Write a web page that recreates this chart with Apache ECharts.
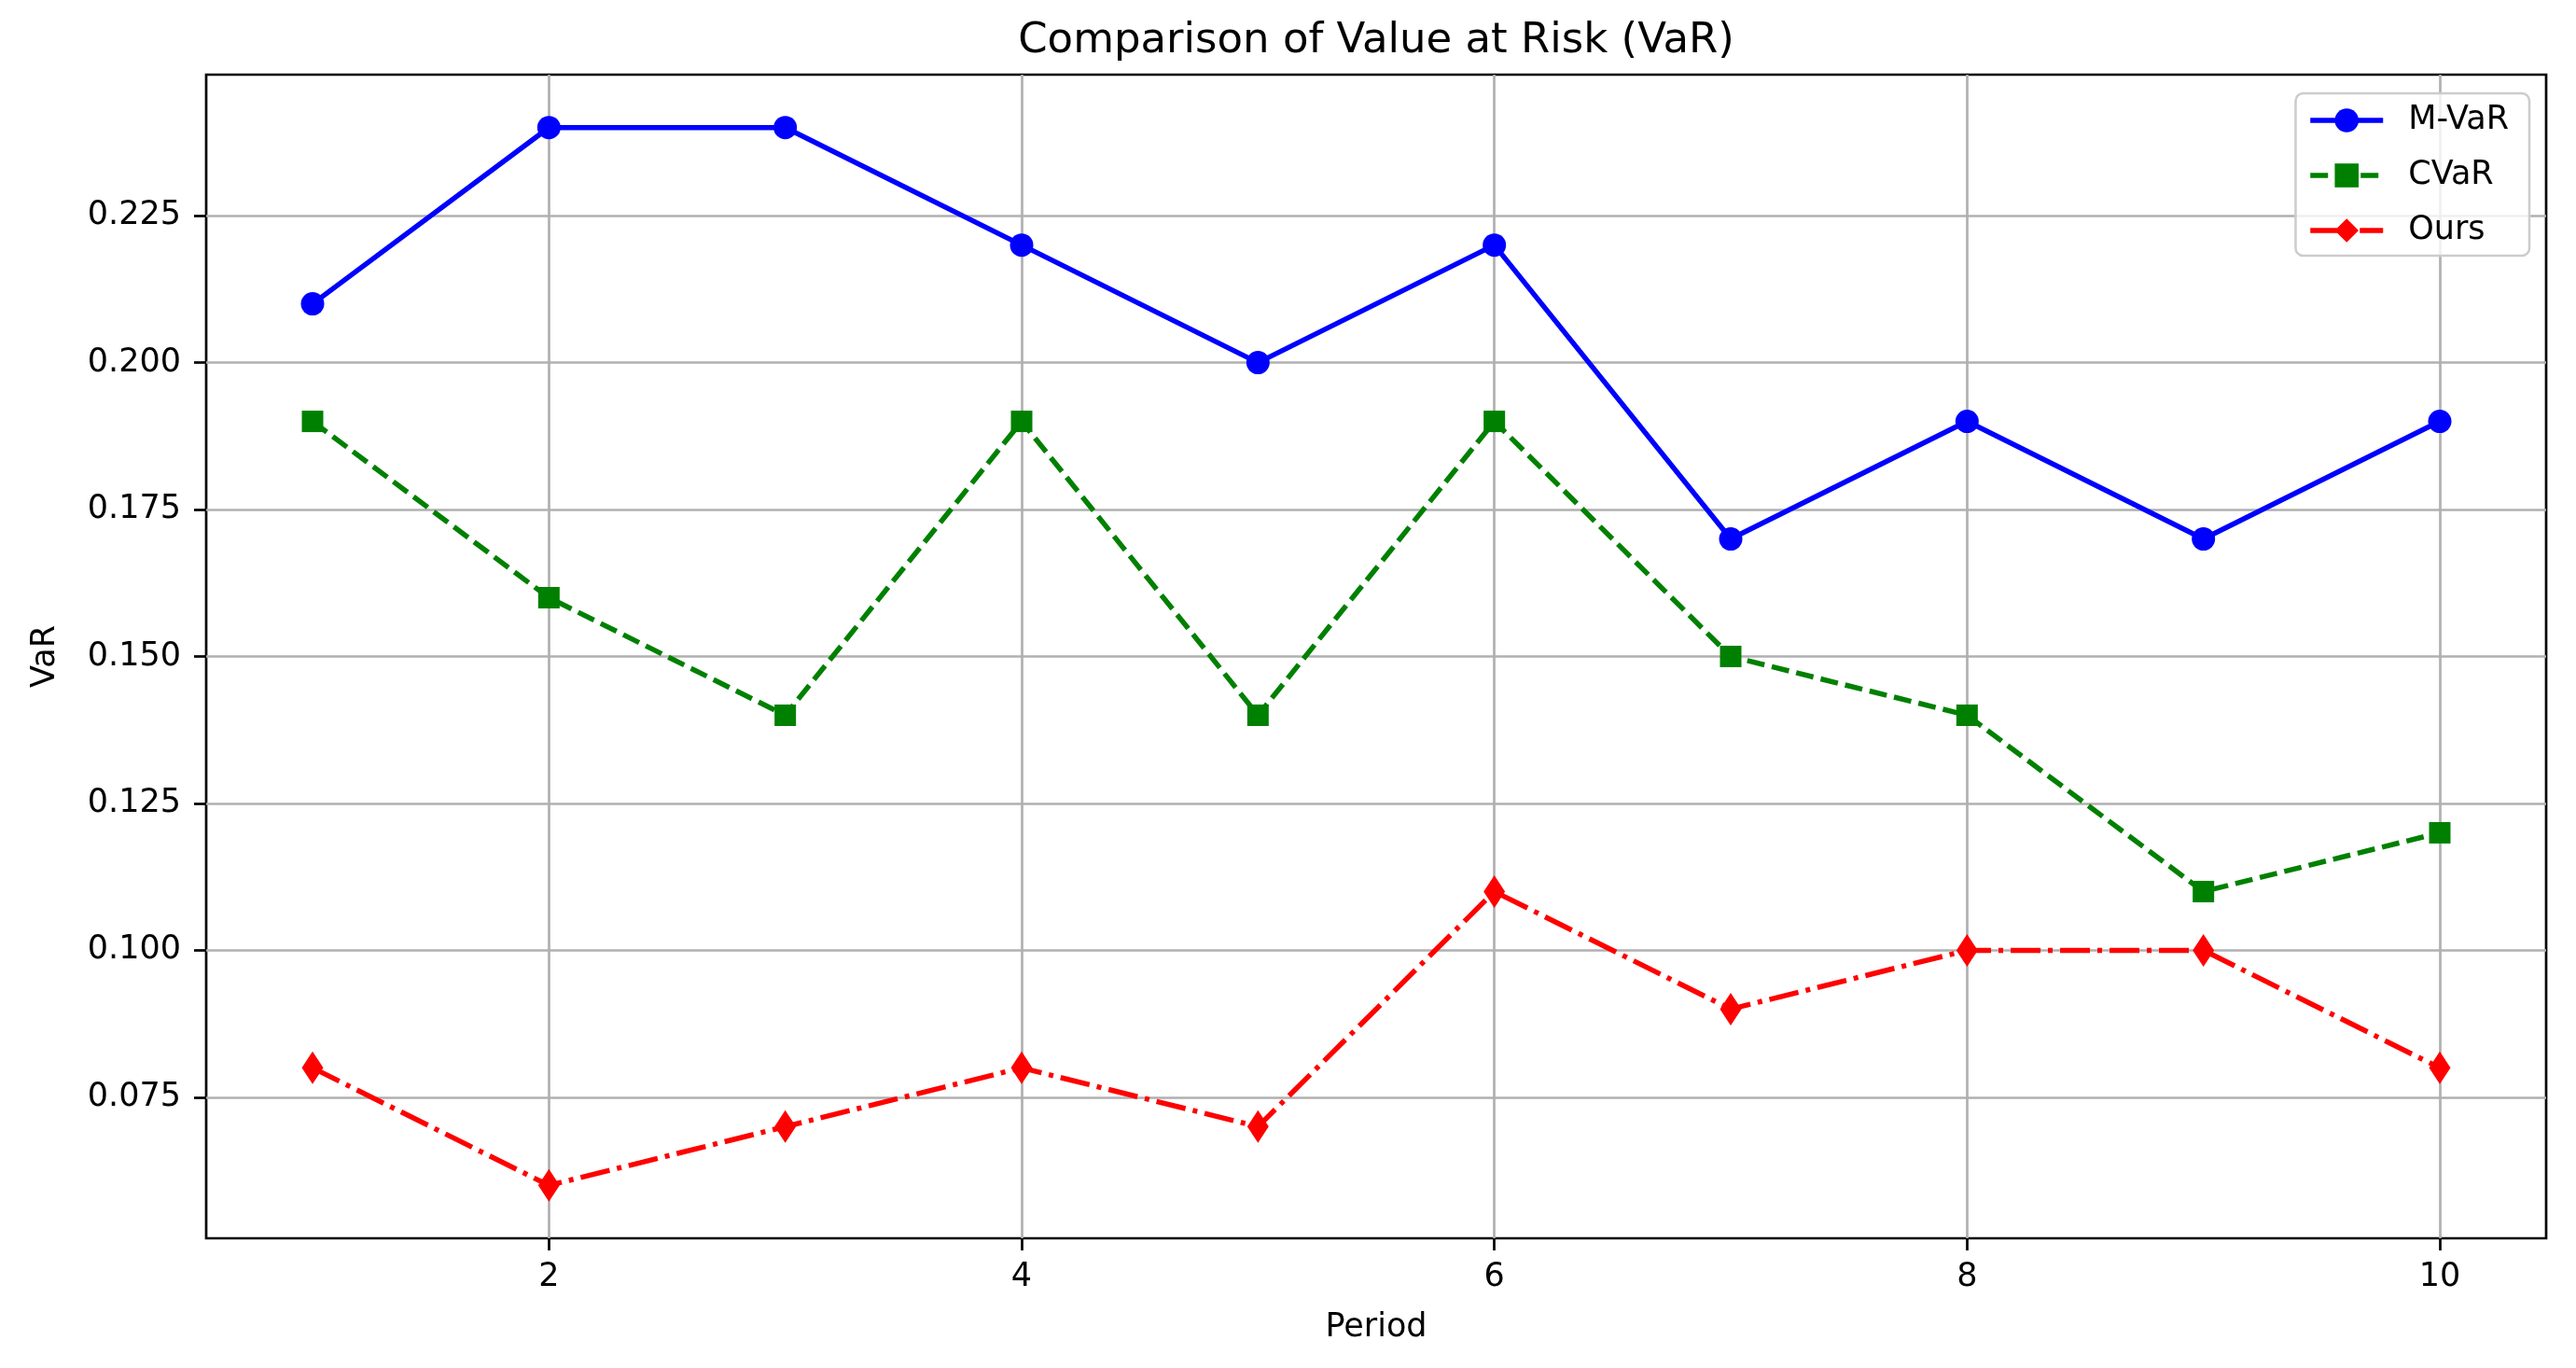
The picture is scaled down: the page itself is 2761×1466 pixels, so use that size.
<!DOCTYPE html>
<html><head><meta charset="utf-8">
<script src="https://cdn.jsdelivr.net/npm/echarts@6/dist/echarts.min.js"></script>
<style>html,body{margin:0;padding:0;background:#fff}#c{width:2761px;height:1466px}</style>
</head><body><div id="c"></div>
<script>
const periods = [1, 2, 3, 4, 5, 6, 7, 8, 9, 10];
const mvarValues = [0.21, 0.24, 0.24, 0.22, 0.20, 0.22, 0.17, 0.19, 0.17, 0.19];
const cvarValues = [0.19, 0.16, 0.14, 0.19, 0.14, 0.19, 0.15, 0.14, 0.11, 0.12];
const oursValues = [0.08, 0.06, 0.07, 0.08, 0.07, 0.11, 0.09, 0.10, 0.10, 0.08];
const xTickValues = [2, 4, 6, 8, 10];
const yTickValues = [0.075, 0.100, 0.125, 0.150, 0.175, 0.200, 0.225];
const seriesNames = ['M-VaR', 'CVaR', 'Ours'];

const FONT = 'DejaVu Sans';
const chart = echarts.init(document.getElementById('c'), null, {renderer: 'canvas'});
const pairs = vals => periods.map((p, i) => [p, vals[i]]);

const option = {
  backgroundColor: '#ffffff',
  animation: false,
  title: {
    text: 'Comparison of Value at Risk (VaR)',
    left: 1470, textAlign: 'center', top: 17,
    textStyle: {fontFamily: FONT, fontSize: 45, fontWeight: 'normal', color: '#000'}
  },
  grid: {
    left: 221, right: 32, top: 80, bottom: 139,
    show: true, borderColor: '#000', borderWidth: 2.7, backgroundColor: 'transparent'
  },
  legend: {
    right: 50, top: 100,
    orient: 'vertical',
    itemWidth: 78, itemHeight: 32, itemGap: 23,
    padding: [11, 22, 9, 13],
    backgroundColor: 'rgba(255,255,255,0.8)',
    borderColor: '#cccccc', borderWidth: 2.5, borderRadius: 8,
    lineStyle: {width: 5.5},
    textStyle: {fontFamily: FONT, fontSize: 35, color: '#000', padding: [0, 0, 0, 22], lineHeight: 36},
    data: seriesNames
  },
  xAxis: {
    type: 'value', min: 0.55, max: 10.45,
    name: 'Period', nameLocation: 'middle', nameGap: 78,
    nameTextStyle: {fontFamily: FONT, fontSize: 35, color: '#000'},
    axisLine: {show: false},
    axisTick: {show: true, length: 13, lineStyle: {color: '#000', width: 2.7}, customValues: xTickValues},
    axisLabel: {fontFamily: FONT, fontSize: 35, color: '#000', margin: 24, customValues: xTickValues},
    splitLine: {show: true, lineStyle: {color: '#b0b0b0', width: 2.7}}
  },
  yAxis: {
    type: 'value', min: 0.051, max: 0.249,
    name: 'VaR', nameLocation: 'middle', nameGap: 155,
    nameTextStyle: {fontFamily: FONT, fontSize: 35, color: '#000'},
    axisLine: {show: false},
    axisTick: {show: true, length: 13, lineStyle: {color: '#000', width: 2.7}, customValues: yTickValues},
    axisLabel: {fontFamily: FONT, fontSize: 35, color: '#000', margin: 27, customValues: yTickValues,
      formatter: v => v.toFixed(3)},
    splitLine: {show: true, lineStyle: {color: '#b0b0b0', width: 2.7}}
  },
  series: [
    {
      name: 'M-VaR', type: 'line', data: pairs(mvarValues),
      symbol: 'circle', symbolSize: 25,
      lineStyle: {color: '#0000ff', width: 5.5, type: 'solid'},
      itemStyle: {color: '#0000ff'}, z: 3
    },
    {
      name: 'CVaR', type: 'line', data: pairs(cvarValues),
      symbol: 'rect', symbolSize: 23,
      lineStyle: {color: '#008000', width: 5.5, type: [19, 8]},
      itemStyle: {color: '#008000'}, z: 3
    },
    {
      name: 'Ours', type: 'line', data: pairs(oursValues),
      symbol: 'diamond', symbolSize: [23, 35],
      lineStyle: {color: '#ff0000', width: 5.5, type: [32, 8, 5, 8]},
      itemStyle: {color: '#ff0000'}, z: 3
    }
  ]
};
chart.setOption(option);
</script>
</body></html>
